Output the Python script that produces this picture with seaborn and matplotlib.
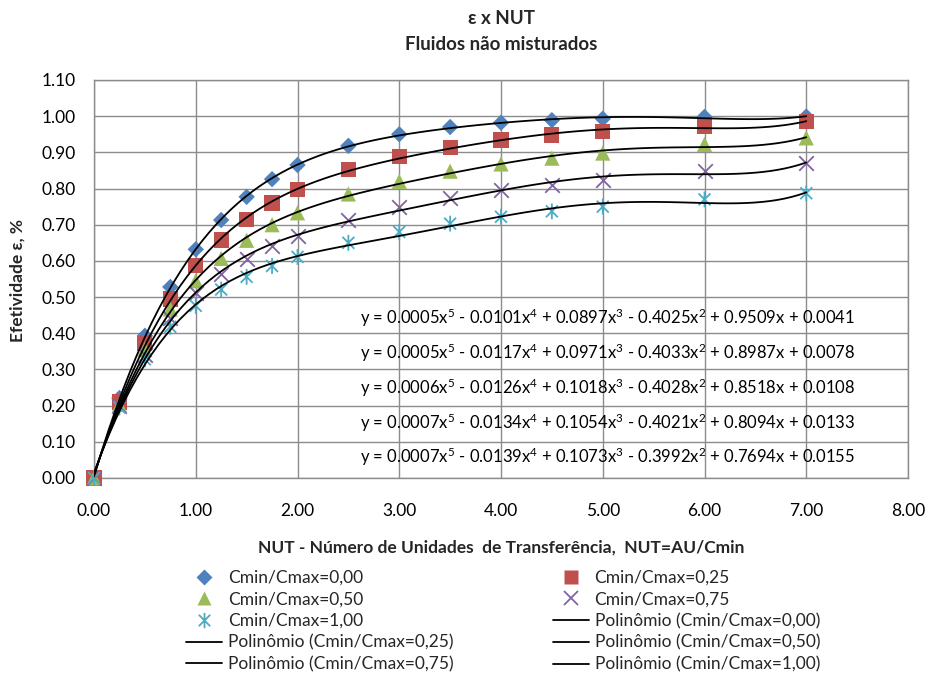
import numpy as np
import pandas as pd
import matplotlib
matplotlib.use("Agg")
import matplotlib.pyplot as plt
from matplotlib.path import Path
from matplotlib.lines import Line2D
import seaborn as sns

# ---------------- data ----------------
nut = [0.0, 0.25, 0.5, 0.75, 1.0, 1.25, 1.5, 1.75, 2.0, 2.5, 3.0, 3.5, 4.0, 4.5, 5.0, 6.0, 7.0]
eff_000 = [0.0, 0.221, 0.393, 0.528, 0.632, 0.713, 0.777, 0.826, 0.865, 0.918, 0.950, 0.970, 0.982, 0.989, 0.993, 0.998, 0.999]
eff_025 = [0.0, 0.210, 0.372, 0.495, 0.587, 0.658, 0.715, 0.760, 0.798, 0.852, 0.888, 0.914, 0.934, 0.948, 0.958, 0.972, 0.985]
eff_050 = [0.0, 0.203, 0.355, 0.467, 0.545, 0.607, 0.657, 0.700, 0.733, 0.785, 0.820, 0.848, 0.868, 0.884, 0.898, 0.922, 0.940]
eff_075 = [0.0, 0.199, 0.340, 0.441, 0.510, 0.565, 0.606, 0.641, 0.670, 0.714, 0.748, 0.774, 0.795, 0.811, 0.825, 0.848, 0.870]
eff_100 = [0.0, 0.195, 0.328, 0.418, 0.476, 0.521, 0.556, 0.586, 0.611, 0.650, 0.680, 0.703, 0.722, 0.737, 0.750, 0.770, 0.787]

series_labels = ["Cmin/Cmax=0,00", "Cmin/Cmax=0,25", "Cmin/Cmax=0,50",
                 "Cmin/Cmax=0,75", "Cmin/Cmax=1,00"]
equations = [
    "y = 0.0005x$\\mathregular{^5}$ - 0.0101x$\\mathregular{^4}$ + 0.0897x$\\mathregular{^3}$ - 0.4025x$\\mathregular{^2}$ + 0.9509x + 0.0041",
    "y = 0.0005x$\\mathregular{^5}$ - 0.0117x$\\mathregular{^4}$ + 0.0971x$\\mathregular{^3}$ - 0.4033x$\\mathregular{^2}$ + 0.8987x + 0.0078",
    "y = 0.0006x$\\mathregular{^5}$ - 0.0126x$\\mathregular{^4}$ + 0.1018x$\\mathregular{^3}$ - 0.4028x$\\mathregular{^2}$ + 0.8518x + 0.0108",
    "y = 0.0007x$\\mathregular{^5}$ - 0.0134x$\\mathregular{^4}$ + 0.1054x$\\mathregular{^3}$ - 0.4021x$\\mathregular{^2}$ + 0.8094x + 0.0133",
    "y = 0.0007x$\\mathregular{^5}$ - 0.0139x$\\mathregular{^4}$ + 0.1073x$\\mathregular{^3}$ - 0.3992x$\\mathregular{^2}$ + 0.7694x + 0.0155",
]
x_ticks = [0, 1, 2, 3, 4, 5, 6, 7, 8]
y_ticks = [0.0, 0.1, 0.2, 0.3, 0.4, 0.5, 0.6, 0.7, 0.8, 0.9, 1.0, 1.1]

# ---------------- style ----------------
sns.set_theme(style="white")
FONT = "Lato"
plt.rcParams["font.family"] = [FONT, "DejaVu Sans"]
plt.rcParams["mathtext.fontset"] = "custom"
plt.rcParams["mathtext.rm"] = FONT
plt.rcParams["mathtext.it"] = FONT
plt.rcParams["mathtext.bf"] = FONT + ":bold"
FS = 12.5

colors = ["#4F81BD", "#C0504D", "#9BBB59", "#8064A2", "#4BACC6"]
star = Path([(0, -1), (0, 1), (-0.75, -0.75), (0.75, 0.75), (-0.75, 0.75), (0.75, -0.75)],
            [Path.MOVETO, Path.LINETO, Path.MOVETO, Path.LINETO, Path.MOVETO, Path.LINETO])
markers = ["D", "s", "^", "x", star]
sizes = [70, 120, 120, 110, 130]

fig = plt.figure(figsize=(9.27, 6.73), dpi=100)
ax = fig.add_axes([94 / 927, 1 - 478 / 673, (908 - 94) / 927, (478 - 80) / 673])

all_eff = [eff_000, eff_025, eff_050, eff_075, eff_100]
df = pd.DataFrame({"NUT": nut})
for lab, e in zip(series_labels, all_eff):
    df[lab] = e

gridc = "#8c8c8c"
ax.set_xlim(0, 8)
ax.set_ylim(0, 1.1)
ax.set_xticks(x_ticks)
ax.set_yticks(y_ticks)
ax.xaxis.set_major_formatter(matplotlib.ticker.FormatStrFormatter("%.2f"))
ax.yaxis.set_major_formatter(matplotlib.ticker.FormatStrFormatter("%.2f"))
ax.grid(True, color=gridc, linewidth=1.0)
ax.set_axisbelow(True)
for sp in ax.spines.values():
    sp.set_color(gridc)
    sp.set_linewidth(1.0)
ax.tick_params(axis="both", length=0, labelsize=FS, colors="black")
ax.tick_params(axis="x", pad=18)
ax.tick_params(axis="y", pad=13)

# scatter points
for i, lab in enumerate(series_labels):
    m = markers[i]
    kw = dict(marker=m, s=sizes[i], color=colors[i], ax=ax, legend=False, zorder=3, clip_on=False)
    if m is star:
        kw.update(linewidth=1.3, edgecolor=colors[i], facecolor="none")
    elif m == "x":
        kw.update(linewidth=1.3)
    else:
        kw.update(edgecolor="none")
    sns.scatterplot(data=df, x="NUT", y=lab, **kw)

# polynomial trendlines (order 5)
for lab in series_labels:
    sns.regplot(data=df, x="NUT", y=lab, order=5, ci=None, scatter=False, ax=ax,
                line_kws=dict(color="black", linewidth=1.3, zorder=4))

ax.set_xlabel("")
ax.set_ylabel("")

# equations
eq_y = [0.442, 0.345, 0.249, 0.152, 0.058]
for eq, yy in zip(equations, eq_y):
    ax.text(7.48, yy, eq, ha="right", va="center", fontsize=12, color="black", zorder=5)

# titles / labels
fig.text(501 / 927, 1 - 18 / 673, "ε x NUT", ha="center", va="center", fontsize=13.5, fontweight="bold")
fig.text(501 / 927, 1 - 45 / 673, "Fluidos não misturados", ha="center", va="center", fontsize=13.5, fontweight="bold")
fig.text(18 / 927, 1 - 280 / 673, "Efetividade ε, %", ha="center", va="center", rotation=90,
         fontsize=FS, fontweight="bold")
fig.text(501 / 927, 1 - 548 / 673, "NUT - Número de Unidades  de Transferência,  NUT=AU/Cmin",
         ha="center", va="center", fontsize=FS, fontweight="bold")

# legend
def mk(i):
    m = markers[i]
    if m is star:
        return Line2D([], [], linestyle="none", marker=m, markersize=11, color=colors[i],
                      markeredgecolor=colors[i], markerfacecolor="none", markeredgewidth=1.3)
    if m == "x":
        return Line2D([], [], linestyle="none", marker=m, markersize=10, color=colors[i],
                      markeredgewidth=1.3)
    ms = {"D": 8, "s": 10, "^": 10}[m]
    return Line2D([], [], linestyle="none", marker=m, markersize=ms, color=colors[i],
                  markeredgecolor="none")

items = [(mk(i), series_labels[i]) for i in range(5)]
items += [(Line2D([], [], color="black", linewidth=1.3), f"Polinômio ({lab})") for lab in series_labels]
col1 = items[0::2]
col2 = items[1::2]
ordered = col1 + col2
fig.legend([h for h, _ in ordered], [l for _, l in ordered], ncol=2,
           loc="upper left", bbox_to_anchor=(186 / 927, 1 - 570 / 673),
           frameon=False, fontsize=FS, handlelength=2.07, handletextpad=0.35,
           labelspacing=0.32, columnspacing=5.7, borderpad=0, borderaxespad=0)

fig.savefig("out.png", dpi=100)
